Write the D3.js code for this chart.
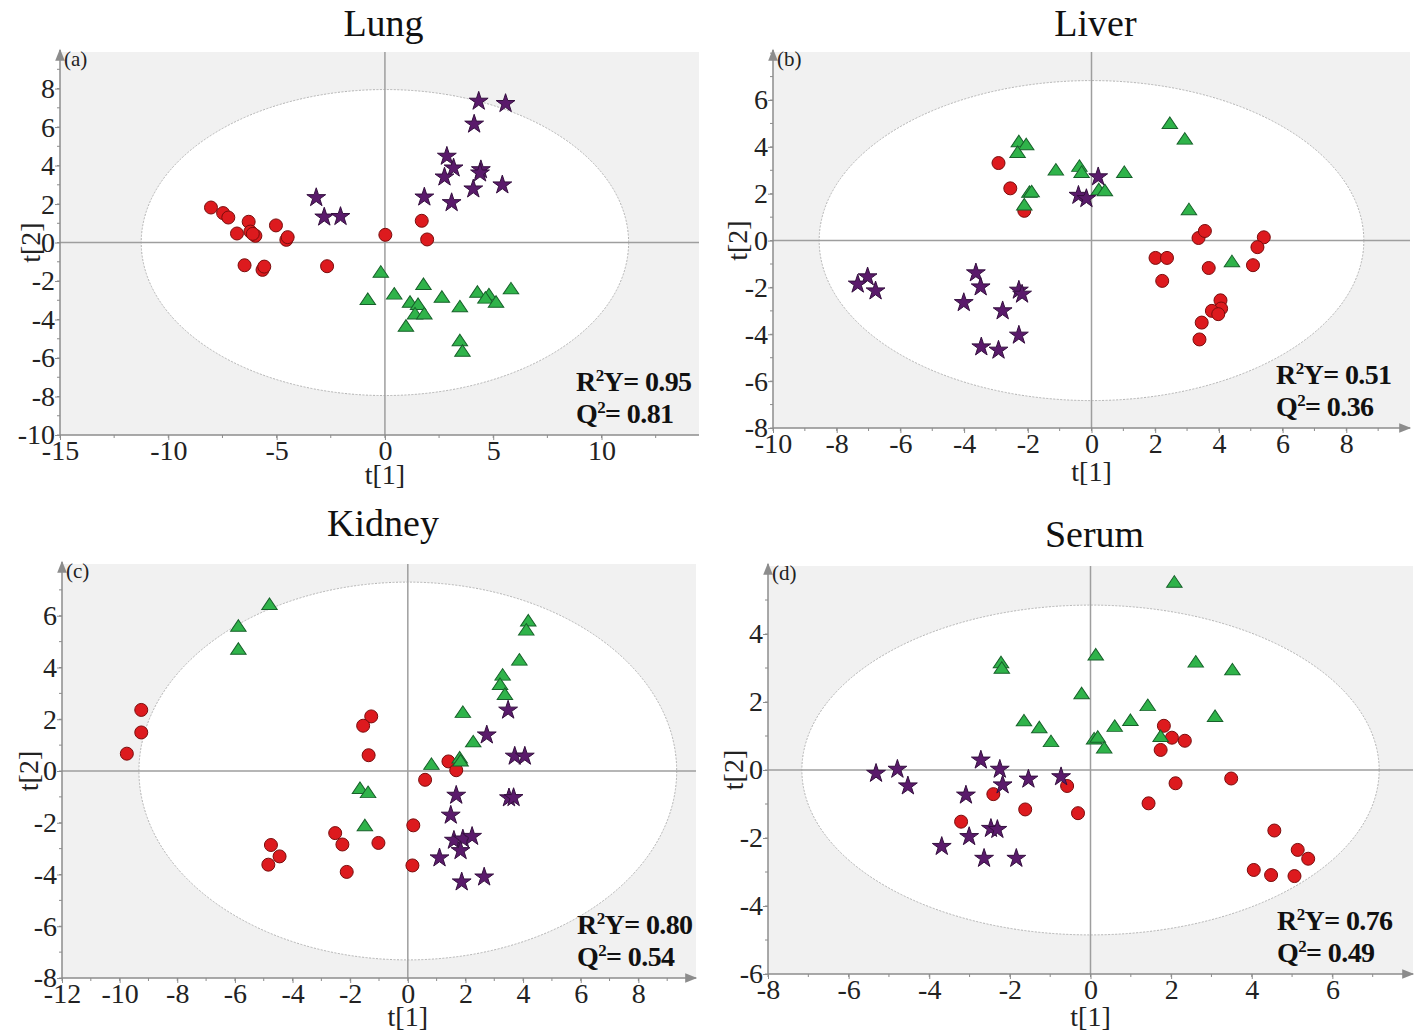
<!DOCTYPE html>
<html>
<head>
<meta charset="utf-8">
<script src="https://cdn.jsdelivr.net/npm/d3@7"></script>
<style>
  body { margin: 0; background: #fff; }
  text { font-family: "Liberation Serif", "Times New Roman", serif; }
</style>
</head>
<body>
<script>
// ---- data: [t1, t2] ----
var lungRed = [[-8.03,1.82],[-7.47,1.53],[-7.23,1.30],[-6.29,1.08],[-6.83,0.47],[-6.21,0.57],[-5.98,0.35],
  [-6.1,0.45],[-5.03,0.89],[-4.55,0.14],[-4.49,0.28],[-6.48,-1.18],[-5.65,-1.42],[-5.57,-1.25],[-2.67,-1.23],
  [0.02,0.40],[1.70,1.13],[1.95,0.16]];
var lungGreen = [[-0.19,-1.60],[-0.79,-3.02],[0.43,-2.74],[1.78,-2.24],[1.16,-3.16],[1.53,-3.28],[1.39,-3.77],
  [1.82,-3.77],[0.97,-4.41],[2.63,-2.90],[3.46,-3.40],[4.27,-2.64],[4.80,-2.78],[4.64,-2.95],[5.13,-3.16],
  [5.82,-2.47],[3.46,-5.16],[3.58,-5.71]];
var lungPurple = [[-3.17,2.33],[-2.80,1.32],[-2.05,1.35],[4.33,7.34],[5.57,7.22],[4.12,6.15],[2.86,4.48],
  [3.17,3.87],[2.75,3.40],[4.43,3.78],[4.39,3.61],[4.08,2.78],[5.42,2.99],[1.82,2.36],[3.08,2.07]];

var liverRed = [[-2.92,3.31],[-2.55,2.23],[-2.11,1.27],[3.36,0.11],[3.56,0.41],[5.41,0.14],[5.21,-0.28],
  [2.01,-0.74],[2.37,-0.74],[3.68,-1.17],[5.07,-1.05],[2.22,-1.72],[4.05,-2.55],[4.07,-2.90],[3.78,-3.00],
  [3.98,-3.14],[3.46,-3.50],[3.39,-4.22]];
var liverGreen = [[2.46,4.95],[2.93,4.28],[-2.28,4.17],[-2.05,4.04],[-2.32,3.71],[-1.12,2.96],[-0.38,3.12],
  [-0.31,2.86],[1.03,2.86],[0.23,2.12],[0.42,2.08],[-1.95,2.01],[-1.88,2.03],[3.06,1.27],[4.41,-0.95],
  [-2.11,1.47]];
var liverPurple = [[0.21,2.72],[-0.41,1.93],[-0.16,1.79],[-7.03,-1.55],[-7.34,-1.86],[-6.78,-2.15],
  [-3.63,-1.38],[-3.48,-1.98],[-4.01,-2.65],[-2.28,-2.12],[-2.18,-2.29],[-2.79,-3.00],[-2.28,-4.04],
  [-3.46,-4.54],[-2.92,-4.68]];

var kidneyRed = [[-9.25,2.36],[-9.25,1.49],[-9.75,0.67],[-1.27,2.11],[-1.55,1.75],[-1.36,0.61],[1.41,0.37],
  [1.68,0.03],[0.60,-0.34],[0.19,-2.10],[0.16,-3.65],[-2.52,-2.40],[-2.27,-2.84],[-1.02,-2.78],[-2.12,-3.90],
  [-4.75,-2.86],[-4.45,-3.30],[-4.84,-3.62]];
var kidneyGreen = [[-4.80,6.39],[-5.88,5.55],[-5.88,4.66],[4.18,5.75],[4.11,5.40],[3.87,4.24],[3.29,3.66],
  [3.20,3.30],[3.37,2.91],[1.91,2.22],[2.27,1.08],[1.80,0.46],[1.83,0.34],[0.82,0.21],[-1.66,-0.72],
  [-1.38,-0.88],[-1.49,-2.16]];
var kidneyPurple = [[3.48,2.35],[2.74,1.39],[3.71,0.57],[4.06,0.57],[3.51,-1.04],[3.67,-1.03],[1.68,-0.94],
  [1.49,-1.71],[1.60,-2.68],[1.91,-2.63],[2.23,-2.53],[1.83,-3.08],[1.10,-3.36],[1.87,-4.29],[2.65,-4.10]];

var serumRed = [[1.82,1.30],[2.02,0.95],[2.34,0.86],[1.74,0.59],[2.11,-0.39],[3.49,-0.25],[1.44,-0.98],
  [-0.58,-0.47],[-0.31,-1.27],[-1.62,-1.16],[-2.41,-0.71],[-3.21,-1.52],[4.56,-1.78],[5.14,-2.35],
  [5.40,-2.61],[4.05,-2.94],[4.48,-3.09],[5.06,-3.12]];
var serumGreen = [[2.08,5.49],[0.13,3.35],[-2.22,3.12],[-2.20,2.96],[2.61,3.14],[3.52,2.91],[-0.22,2.21],
  [1.42,1.86],[3.09,1.54],[-1.65,1.41],[-1.27,1.21],[-0.98,0.80],[0.60,1.25],[0.99,1.42],[0.09,0.88],
  [0.18,0.93],[0.34,0.61],[1.74,0.95]];
var serumPurple = [[-5.32,-0.10],[-4.79,0.02],[-4.53,-0.47],[-2.72,0.29],[-2.25,0.02],[-2.18,-0.44],
  [-1.54,-0.27],[-0.73,-0.20],[-3.09,-0.74],[-2.47,-1.72],[-2.31,-1.75],[-3.01,-1.96],[-3.69,-2.25],
  [-2.64,-2.60],[-1.84,-2.60]];

// titles, fit statistics, axis ranges, ticks, ellipse radii
var titles = ["Lung", "Liver", "Kidney", "Serum"];
var tags = ["(a)", "(b)", "(c)", "(d)"];
var r2y = ["0.95", "0.51", "0.80", "0.76"];
var q2 = ["0.81", "0.36", "0.54", "0.49"];
var xDomains = [[-15, 14.5], [-10, 10], [-12, 10], [-8, 8]];
var yDomains = [[-10, 9.9], [-8, 8.05], [-8, 8], [-6, 6]];
var xTicks = [[-15,-10,-5,0,5,10], [-10,-8,-6,-4,-2,0,2,4,6,8], [-12,-10,-8,-6,-4,-2,0,2,4,6,8], [-8,-6,-4,-2,0,2,4,6]];
var yTicks = [[-10,-8,-6,-4,-2,0,2,4,6,8], [-8,-6,-4,-2,0,2,4,6], [-8,-6,-4,-2,0,2,4,6], [-6,-4,-2,0,2,4]];
var xMinorStep = [2.5, 1, 1, 1];
var ellipseR = [[11.25, 7.95], [8.55, 6.83], [9.33, 7.3], [7.16, 4.85]];

var redSets = [lungRed, liverRed, kidneyRed, serumRed];
var greenSets = [lungGreen, liverGreen, kidneyGreen, serumGreen];
var purpleSets = [lungPurple, liverPurple, kidneyPurple, serumPurple];

// pixel boxes of the four plot areas
var boxes = [
  {l: 60, r: 699, t: 52, b: 435, titleY: 36, yLabX: 30, xLabY: 484, statX: 576},
  {l: 773, r: 1410, t: 52, b: 428, titleY: 36, yLabX: 737, xLabY: 481, statX: 1276},
  {l: 62, r: 696, t: 564, b: 978, titleY: 536, yLabX: 28, xLabY: 1026, statX: 577},
  {l: 768, r: 1413, t: 566, b: 974, titleY: 547, yLabX: 733, xLabY: 1026, statX: 1277}
];

var W = 1416, H = 1031;
var svg = d3.select("body").append("svg").attr("width", W).attr("height", H);

var defs = svg.append("defs");
defs.append("marker").attr("id", "arrow")
  .attr("viewBox", "0 0 10 10").attr("refX", 9).attr("refY", 5)
  .attr("markerWidth", 10).attr("markerHeight", 8).attr("orient", "auto")
  .append("path").attr("d", "M0,1 L10,5 L0,9 Z").attr("fill", "#8c8c8c");

var axisGrey = "#8c8c8c";
var fmt = function(d) { return d < 0 ? "-" + Math.abs(d) : d; };

boxes.forEach(function(bx, i) {
  defs.append("clipPath").attr("id", "clip" + i)
    .append("rect").attr("x", bx.l).attr("y", bx.t).attr("width", bx.r - bx.l).attr("height", bx.b - bx.t);

  var x = d3.scaleLinear().domain(xDomains[i]).range([bx.l, bx.r]);
  var y = d3.scaleLinear().domain(yDomains[i]).range([bx.b, bx.t]);
  var g = svg.append("g");

  // grey background + white ellipse
  g.append("rect").attr("x", bx.l).attr("y", bx.t).attr("width", bx.r - bx.l).attr("height", bx.b - bx.t)
    .attr("fill", "#f1f1f1");
  g.append("ellipse")
    .attr("cx", x(0)).attr("cy", y(0))
    .attr("rx", x(ellipseR[i][0]) - x(0)).attr("ry", y(0) - y(ellipseR[i][1]))
    .attr("fill", "#fff").attr("stroke", "#b4b4b4").attr("stroke-width", 1).attr("stroke-dasharray", "2,1.5");

  // zero lines
  g.append("line").attr("x1", bx.l).attr("x2", bx.r).attr("y1", y(0)).attr("y2", y(0))
    .attr("stroke", "#9e9e9e").attr("stroke-width", 1.5);
  g.append("line").attr("x1", x(0)).attr("x2", x(0)).attr("y1", bx.t).attr("y2", bx.b)
    .attr("stroke", "#9e9e9e").attr("stroke-width", 1.5);

  // minor ticks
  var xMinor = d3.range(xDomains[i][0], xDomains[i][1], xMinorStep[i]);
  var yMinor = d3.range(Math.ceil(yDomains[i][0]), yDomains[i][1], 1);
  g.selectAll(".xm").data(xMinor).enter().append("line")
    .attr("x1", function(d) { return x(d); }).attr("x2", function(d) { return x(d); })
    .attr("y1", bx.b).attr("y2", bx.b + 3).attr("stroke", axisGrey);
  g.selectAll(".ym").data(yMinor).enter().append("line")
    .attr("y1", function(d) { return y(d); }).attr("y2", function(d) { return y(d); })
    .attr("x1", bx.l).attr("x2", bx.l - 3).attr("stroke", axisGrey);

  // axes
  var xa = g.append("g").attr("transform", "translate(0," + bx.b + ")")
    .call(d3.axisBottom(x).tickValues(xTicks[i]).tickSize(5).tickPadding(0).tickSizeOuter(0).tickFormat(fmt));
  var ya = g.append("g").attr("transform", "translate(" + bx.l + ",0)")
    .call(d3.axisLeft(y).tickValues(yTicks[i]).tickSize(5).tickPadding(0).tickSizeOuter(0).tickFormat(fmt));
  [xa, ya].forEach(function(a) {
    a.select(".domain").remove();
    a.selectAll("line").attr("stroke", axisGrey);
    a.selectAll("text").attr("font-family", "Liberation Serif").attr("font-size", 28).attr("fill", "#222");
  });
  g.append("line").attr("x1", bx.l).attr("x2", bx.r).attr("y1", bx.b).attr("y2", bx.b)
    .attr("stroke", axisGrey).attr("stroke-width", 1.5).attr("marker-end", i === 0 ? null : "url(#arrow)");
  g.append("line").attr("x1", bx.l).attr("x2", bx.l).attr("y1", bx.b).attr("y2", bx.t - 2)
    .attr("stroke", axisGrey).attr("stroke-width", 1.5).attr("marker-end", "url(#arrow)");

  // markers
  var pts = g.append("g").attr("clip-path", "url(#clip" + i + ")");
  pts.selectAll(".red").data(redSets[i]).enter().append("circle")
    .attr("cx", function(d) { return x(d[0]); }).attr("cy", function(d) { return y(d[1]); })
    .attr("r", 6.5).attr("fill", "#dd1a1e").attr("stroke", "#7a0d0d").attr("stroke-width", 1);
  pts.selectAll(".grn").data(greenSets[i]).enter().append("path")
    .attr("d", d3.symbol().type(d3.symbolTriangle).size(95))
    .attr("transform", function(d) { return "translate(" + x(d[0]) + "," + y(d[1]) + ") scale(1.05,0.9)"; })
    .attr("fill", "#2fb34a").attr("stroke", "#17602a").attr("stroke-width", 1);
  pts.selectAll(".pur").data(purpleSets[i]).enter().append("path")
    .attr("d", d3.symbol().type(d3.symbolStar).size(110))
    .attr("transform", function(d) { return "translate(" + x(d[0]) + "," + y(d[1]) + ")"; })
    .attr("fill", "#5a1a6b").attr("stroke", "#35103f").attr("stroke-width", 1);

  // texts
  svg.append("text").attr("x", (bx.l + bx.r) / 2 + 4).attr("y", bx.titleY)
    .attr("text-anchor", "middle").attr("font-size", 38).attr("fill", "#111").text(titles[i]);
  svg.append("text").attr("x", bx.l + 4).attr("y", bx.t + 14)
    .attr("font-size", 21).attr("fill", "#222").text(tags[i]);
  svg.append("text").attr("transform", "translate(" + bx.yLabX + "," + y(0) + ") rotate(-90)")
    .attr("text-anchor", "middle").attr("dy", "0.35em").attr("font-size", 28).attr("fill", "#222").text("t[2]");
  svg.append("text").attr("x", x(0)).attr("y", bx.xLabY)
    .attr("text-anchor", "middle").attr("font-size", 28).attr("fill", "#222").text("t[1]");

  var stats = [["R", "Y= " + r2y[i], bx.b - 44], ["Q", "= " + q2[i], bx.b - 12]];
  stats.forEach(function(s) {
    var t = svg.append("text").attr("x", bx.statX).attr("y", s[2])
      .attr("font-size", 28).attr("font-weight", "bold").attr("letter-spacing", -0.6).attr("fill", "#111");
    t.append("tspan").text(s[0]);
    t.append("tspan").attr("dy", -10).attr("font-size", 17).text("2");
    t.append("tspan").attr("dy", 10).text(s[1]);
  });
});
</script>
</body>
</html>
